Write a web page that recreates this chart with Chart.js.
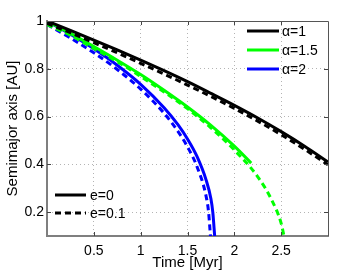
<!DOCTYPE html>
<html><head><meta charset="utf-8">
<script src="https://cdn.jsdelivr.net/npm/chart.js@4/dist/chart.umd.min.js"></script>
<style>html,body{margin:0;padding:0;background:#fff;}</style>
</head><body>
<canvas id="c" width="362" height="273" style="display:block;width:362px;height:273px"></canvas>
<script>
// ---- data ----
const timeBlack = [0,0.25,0.5,0.75,1,1.25,1.5,1.75,2,2.25,2.5,2.75,3];
const blackSolid = [1,0.961,0.920,0.879,0.836,0.792,0.746,0.697,0.647,0.594,0.537,0.476,0.41];
const blackDashed = [0.99,0.951,0.909,0.867,0.823,0.778,0.732,0.684,0.634,0.581,0.524,0.463,0.398];
const timeGreenSolid = [0,0.25,0.5,0.75,1,1.25,1.5,1.75,2,2.18];
const greenSolid = [1,0.948,0.893,0.836,0.776,0.710,0.640,0.563,0.476,0.405];
const timeGreenDashed = [0,0.25,0.5,0.75,1,1.25,1.5,1.75,2,2.25,2.4,2.5,2.53];
const greenDashed = [0.985,0.94,0.885,0.83,0.768,0.703,0.633,0.553,0.46,0.348,0.25,0.153,0.1];
const timeBlueSolid = [0,0.25,0.5,0.75,1,1.25,1.4,1.5,1.6,1.7,1.75,1.77,1.79];
const blueSolid = [1,0.945,0.884,0.815,0.735,0.637,0.565,0.506,0.434,0.333,0.256,0.2,0.1];
const timeBlueDashed = [0,0.25,0.5,0.75,1,1.25,1.4,1.5,1.6,1.7,1.725,1.745];
const blueDashed = [0.985,0.929,0.867,0.797,0.715,0.614,0.537,0.473,0.392,0.264,0.2,0.1];

const xTickValues = [0.5,1,1.5,2,2.5];
const yTickValues = [0.2,0.4,0.6,0.8,1];
const alphaLabels = ['\u03B1=1','\u03B1=1.5','\u03B1=2'];
const eccLabels = ['e=0','e=0.1'];
const xTitle = 'Time [Myr]';
const yTitle = 'Semimajor axis [AU]';

const BLACK = '#000000', GREEN = '#00ff00', BLUE = '#0000ff';
const DASH = [6,4];
const FONT = '"Liberation Sans", Arial, Helvetica, sans-serif';

function pts(xs, ys){ return xs.map((x,i)=>({x:x, y:ys[i]})); }
function ds(xs, ys, color, dashed){
  return {data: pts(xs,ys), borderColor: color, backgroundColor: color,
    borderWidth: 3, borderDash: dashed ? DASH : [], pointRadius: 0,
    cubicInterpolationMode: 'monotone', fill: false};
}

const overlay = {
  id: 'overlay',
  afterDatasetsDraw(chart){
    const ctx = chart.ctx, a = chart.chartArea;
    const xs = chart.scales.x, ys = chart.scales.y;
    ctx.save();
    // inward ticks
    ctx.strokeStyle = '#444'; ctx.lineWidth = 1;
    ctx.beginPath();
    xTickValues.forEach(v=>{ const p = Math.round(xs.getPixelForValue(v))+0.5;
      ctx.moveTo(p,a.bottom); ctx.lineTo(p,a.bottom-4);
      ctx.moveTo(p,a.top); ctx.lineTo(p,a.top+4); });
    yTickValues.forEach(v=>{ const p = Math.round(ys.getPixelForValue(v))+0.5;
      ctx.moveTo(a.left,p); ctx.lineTo(a.left+4,p);
      ctx.moveTo(a.right,p); ctx.lineTo(a.right-4,p); });
    ctx.stroke();
    // top / right frame
    ctx.strokeStyle = '#555'; ctx.lineWidth = 1;
    ctx.beginPath();
    ctx.moveTo(a.left, a.top+0.5); ctx.lineTo(a.right+0.5, a.top+0.5); ctx.lineTo(a.right+0.5, a.bottom);
    ctx.stroke();
    // legends
    ctx.font = '14px ' + FONT; ctx.textBaseline = 'middle'; ctx.textAlign = 'left'; ctx.fillStyle = '#000';
    const cols = [BLACK, GREEN, BLUE];
    alphaLabels.forEach((t,i)=>{
      const y = a.top + 10 + i*19;
      ctx.strokeStyle = cols[i]; ctx.lineWidth = 3; ctx.setLineDash([]);
      ctx.beginPath(); ctx.moveTo(a.right-81, y); ctx.lineTo(a.right-49, y); ctx.stroke();
      ctx.fillText(t, a.right-46, y+1);
    });
    eccLabels.forEach((t,i)=>{
      const y = a.top + 174 + i*18;
      ctx.strokeStyle = BLACK; ctx.lineWidth = 3; ctx.setLineDash(i ? DASH : []);
      ctx.beginPath(); ctx.moveTo(a.left+8, y); ctx.lineTo(a.left+39, y); ctx.stroke();
      ctx.setLineDash([]);
      ctx.fillText(t, a.left+43, y+1);
    });
    ctx.restore();
  }
};

new Chart(document.getElementById('c'), {
  type: 'line',
  data: { datasets: [
    ds(timeBlack, blackSolid, BLACK, false),
    ds(timeBlack, blackDashed, BLACK, true),
    ds(timeGreenSolid, greenSolid, GREEN, false),
    ds(timeGreenDashed, greenDashed, GREEN, true),
    ds(timeBlueSolid, blueSolid, BLUE, false),
    ds(timeBlueDashed, blueDashed, BLUE, true)
  ]},
  options: {
    responsive: false, devicePixelRatio: 1, animation: false,
    layout: { padding: { top: 21, right: 34, left: 0, bottom: 0 } },
    plugins: { legend: { display: false }, tooltip: { enabled: false } },
    scales: {
      x: { type: 'linear', min: 0, max: 3,
        afterBuildTicks: s => { s.ticks = xTickValues.map(v=>({value:v})); },
        afterFit: s => { s.height = 37; },
        ticks: { padding: 7, color: '#000', font: { family: FONT, size: 14 }, callback: v => String(v) },
        grid: { color: '#b4b4b4', lineWidth: 1, drawTicks: false },
        border: { color: '#7f7f7f', width: 2, dash: [1,3] },
        title: { display: true, text: xTitle, color: '#000', font: { family: FONT, size: 15 }, padding: { top: 0, bottom: 1 } }
      },
      y: { type: 'linear', min: 0.1, max: 1,
        afterBuildTicks: s => { s.ticks = yTickValues.map(v=>({value:v})); },
        afterFit: s => { s.width = 47; },
        ticks: { padding: 3, color: '#000', font: { family: FONT, size: 14 }, callback: v => String(v) },
        grid: { color: '#b4b4b4', lineWidth: 1, drawTicks: false },
        border: { color: '#7f7f7f', width: 2, dash: [1,3] },
        title: { display: true, text: yTitle, color: '#000', font: { family: FONT, size: 15 }, padding: { top: 4, bottom: 0 } }
      }
    }
  },
  plugins: [overlay]
});
</script>
</body></html>
